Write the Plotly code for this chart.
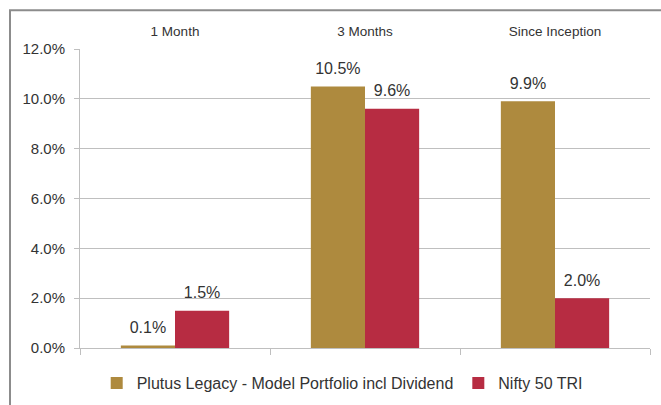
import plotly.graph_objects as go

categories = ["1 Month", "3 Months", "Since Inception"]
series_names = ["Plutus Legacy - Model Portfolio incl Dividend", "Nifty 50 TRI"]
plutus_values = [0.001, 0.105, 0.099]
nifty_values = [0.015, 0.096, 0.020]
y_ticks = [0.0, 0.02, 0.04, 0.06, 0.08, 0.10, 0.12]

GOLD = "#AE8A3E"
RED = "#B72C42"
GRID = "#BFBFBF"
LABEL_FONT = "Liberation Sans"

fig = go.Figure()
for i, (name, vals, col) in enumerate([(series_names[0], plutus_values, GOLD), (series_names[1], nifty_values, RED)]):
    fig.add_trace(go.Bar(
        x=categories, y=vals, name=name, offsetgroup=str(i),
        marker=dict(color=col, line=dict(width=0)),
        hoverinfo="x+y+name",
    ))
for i, vals in enumerate([plutus_values, nifty_values]):
    fig.add_trace(go.Scatter(
        x=categories, y=vals, mode="markers+text", offsetgroup=str(i),
        marker=dict(size=12, opacity=0),
        text=[f"{v*100:.1f}%" for v in vals], textposition="top center",
        textfont=dict(family=LABEL_FONT, size=16, color="#333333"),
        showlegend=False, hoverinfo="skip", cliponaxis=False,
    ))

# helper trace for bottom axis line with category-boundary ticks
fig.add_trace(go.Scatter(x=[0, 2], y=[0, 0], xaxis="x2", mode="markers",
                         marker=dict(opacity=0), showlegend=False, hoverinfo="skip"))

fig.update_layout(
    width=661, height=405,
    margin=dict(l=80, r=11, t=49, b=57, autoexpand=False),
    paper_bgcolor="white", plot_bgcolor="white",
    barmode="group", bargap=0.43, bargroupgap=0.0,
    scattermode="group", scattergap=0.43,
    xaxis=dict(side="top", showline=False, showgrid=False, ticks="outside", ticklen=7,
               tickcolor="rgba(0,0,0,0)", tickfont=dict(family="Liberation Sans", size=13.5, color="#333333"),
               range=[-0.5, 2.5], automargin=False),
    xaxis2=dict(overlaying="x", anchor="y", side="bottom", range=[-0.5, 2.5],
                tickvals=[-0.5, 0.5, 1.5, 2.5], ticktext=["", "", "", ""],
                ticks="outside", ticklen=6, tickcolor=GRID, showline=True, linecolor=GRID,
                linewidth=1, showgrid=False, zeroline=False, automargin=False),
    yaxis=dict(range=[0, 0.12], tickvals=y_ticks, tickformat=".1%", showgrid=True,
               gridcolor=GRID, gridwidth=1, showline=True, linecolor=GRID, ticks="outside",
               ticklen=5, tickcolor=GRID, zeroline=False, automargin=False,
               ticklabelstandoff=6,
               tickfont=dict(family=LABEL_FONT, size=15, color="#333333")),
    legend=dict(orientation="h", x=0.46, xanchor="center", yref="container", y=0.054, yanchor="middle",
                font=dict(family=LABEL_FONT, size=16, color="#333333"),
                itemsizing="constant", traceorder="normal", itemwidth=30),
    shapes=[dict(type="rect", xref="paper", yref="paper", x0=-0.1228, x1=1.2, y0=-0.3, y1=1.13,
                 line=dict(color="#8C8C8C", width=2), fillcolor="rgba(0,0,0,0)", layer="below")],
    showlegend=True,
)

fig.write_html("out.html", config={"displayModeBar": False},
               post_script="document.body.style.margin='0';")
